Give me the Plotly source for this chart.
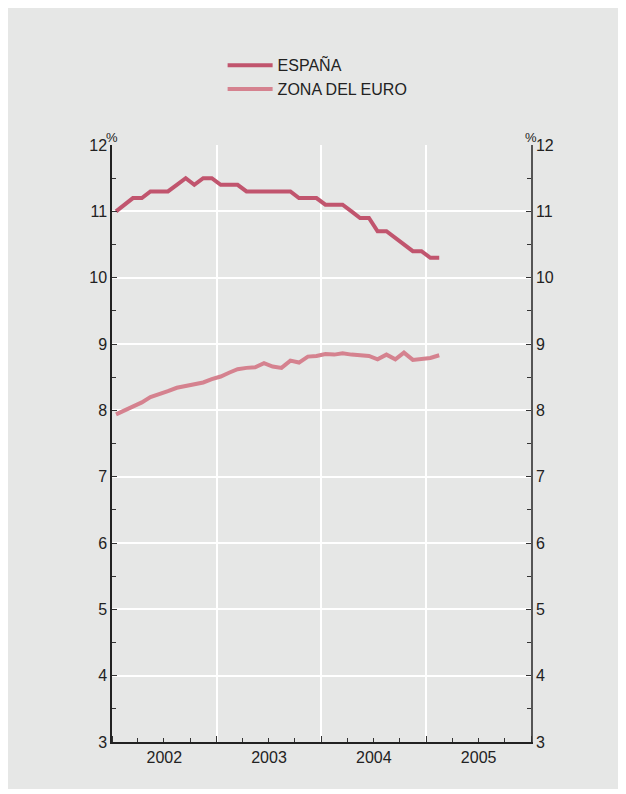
import plotly.graph_objects as go
import pandas as pd

months = pd.date_range("2002-01-01", periods=38, freq="MS") + pd.Timedelta(days=14)
espana = [11.0, 11.1, 11.2, 11.2, 11.3, 11.3, 11.3, 11.4, 11.5, 11.4,
          11.5, 11.5, 11.4, 11.4, 11.4, 11.3, 11.3, 11.3, 11.3, 11.3,
          11.3, 11.2, 11.2, 11.2, 11.1, 11.1, 11.1, 11.0, 10.9, 10.9,
          10.7, 10.7, 10.6, 10.5, 10.4, 10.4, 10.3, 10.3]
zona_euro = [7.94, 8.00, 8.05, 8.12, 8.20, 8.24, 8.29, 8.34, 8.37, 8.39,
             8.42, 8.47, 8.51, 8.57, 8.62, 8.64, 8.65, 8.71, 8.66, 8.64,
             8.75, 8.72, 8.81, 8.82, 8.85, 8.84, 8.86, 8.84, 8.83, 8.82,
             8.77, 8.84, 8.77, 8.87, 8.76, 8.77, 8.79, 8.83]
series_names = ["ESPAÑA", "ZONA DEL EURO"]
y_ticks = list(range(3, 13))

BG = "#e6e7e6"
FONT = "Liberation Sans, Arial, sans-serif"

fig = go.Figure()
fig.add_trace(go.Scatter(x=months, y=espana, mode="lines", name=series_names[0],
                         line=dict(color="#c1556e", width=4)))
fig.add_trace(go.Scatter(x=months, y=zona_euro, mode="lines", name=series_names[1],
                         line=dict(color="#d5828f", width=4)))
fig.add_trace(go.Scatter(x=[months[0]], y=[None], yaxis="y2", showlegend=False,
                         hoverinfo="skip", mode="lines"))

axis_common = dict(
    range=[3, 12], tickvals=y_ticks, ticks="inside", ticklen=5, tickwidth=1,
    tickcolor="#333", showline=True, linewidth=1.5,
    tickfont=dict(family=FONT, size=16, color="#222"),
    minor=dict(dtick=0.5, ticks="inside", ticklen=4, tickcolor="#333", showgrid=False),
    zeroline=False,
)

fig.update_layout(
    width=614, height=781,
    margin=dict(l=104, r=91, t=137, b=47),
    paper_bgcolor=BG, plot_bgcolor=BG,
    font=dict(family=FONT, color="#222"),
    xaxis=dict(
        type="date", range=["2002-01-01", "2006-01-01"],
        tick0="2002-01-01", dtick="M12", ticklabelmode="period", tickformat="%Y",
        ticks="inside", ticklen=6, tickcolor="#333", showline=True, linewidth=1.5,
        linecolor="#222", showgrid=True, gridcolor="#ffffff", gridwidth=1.5,
        tickfont=dict(family=FONT, size=16, color="#222"),
        minor=dict(dtick="M3", ticks="inside", ticklen=4, tickcolor="#333", showgrid=False),
    ),
    yaxis=dict(**axis_common, side="left", linecolor="#222", showgrid=True,
               gridcolor="#ffffff", gridwidth=1.5),
    yaxis2=dict(**axis_common, side="right", overlaying="y", linecolor="#555",
                showgrid=False),
    legend=dict(x=0.264, y=1.162, xanchor="left", yanchor="top", itemwidth=45,
                bgcolor="rgba(0,0,0,0)", font=dict(family=FONT, size=16, color="#222"),
                tracegroupgap=0),
    showlegend=True,
    annotations=[
        dict(text="%", x=0, y=1, xref="paper", yref="paper", xanchor="center",
             yanchor="bottom", showarrow=False, font=dict(size=13, color="#222"), yshift=-2),
        dict(text="%", x=1, y=1, xref="paper", yref="paper", xanchor="center",
             yanchor="bottom", showarrow=False, font=dict(size=13, color="#222"), yshift=-2),
    ],
)

fig.write_html("out.html")
